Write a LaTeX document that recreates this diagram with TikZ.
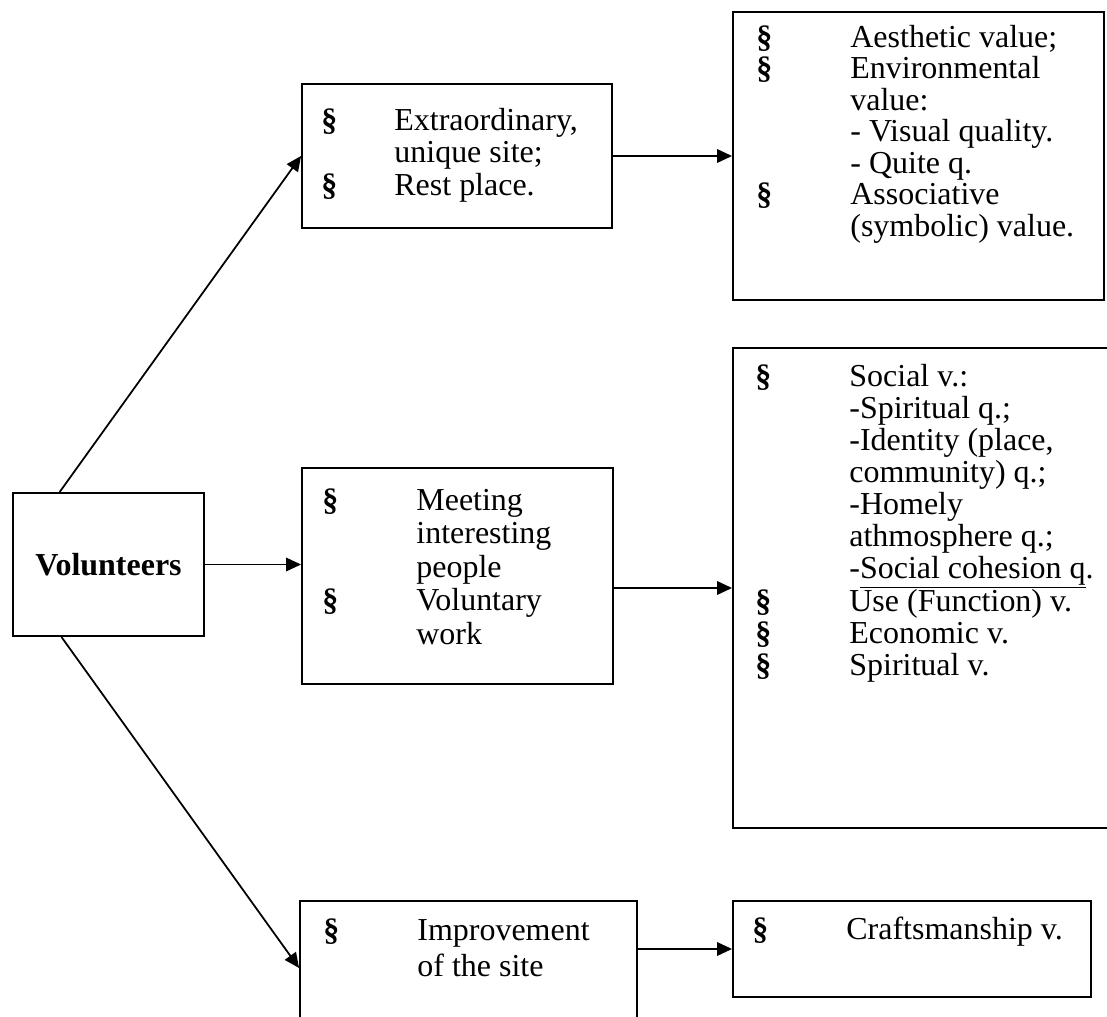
\documentclass[tikz,border=0pt]{standalone}
\usepackage{fontspec}
\setmainfont{Liberation Serif}
\usetikzlibrary{arrows.meta}

\newcommand{\smark}[1][1.88cm]{\makebox[#1][l]{\textbf{\S}}}
\newcommand{\sgap}[1][1.88cm]{\hspace*{#1}}
\newcommand{\lines}[1]{\begin{tabular}[t]{@{}l@{}}#1\end{tabular}}

\begin{document}
\begin{tikzpicture}[x=0.02cm,y=-0.02cm,
    box/.style={draw,line width=1.1pt,inner sep=0pt},
    txt/.style={inner sep=0pt,anchor=base west,
      font=\fontsize{18.2}{#1}\selectfont},
    txt/.default=18.2,
    arr/.style={line width=1pt,-{Triangle[length=0.3cm,width=0.27cm]}}]
  \useasboundingbox (0,0) rectangle (1107,1017);
  % boxes
  \node[box,minimum width=3.82cm,minimum height=2.86cm,
    font=\fontsize{18.2}{18.2}\selectfont\bfseries] (vol) at (108.5,564.5) {Volunteers};
  \node[box,minimum width=6.2cm,minimum height=2.88cm] (site) at (457,156) {};
  \node[box,minimum width=6.22cm,minimum height=4.32cm] (people) at (457.5,576) {};
  \node[box,minimum width=6.74cm,minimum height=2.68cm] (improve) at (468.5,968) {};
  \node[box,minimum width=7.42cm,minimum height=5.76cm] (aesth) at (918.5,156) {};
  \node[box,minimum width=7.74cm,minimum height=9.6cm] (social) at (926.5,588) {};
  \node[box,minimum width=7.16cm,minimum height=1.92cm] (craft) at (912,949) {};
  % texts
  \node[txt=18.7] (site-t) at ([shift={(20,47)}]site.north west)
    {\lines{\smark[1.46cm]Extraordinary,\\ \sgap[1.46cm]unique site;\\ \smark[1.46cm]Rest place.}};
  \node[txt=19.1] (people-t) at ([shift={(21,43)}]people.north west)
    {\lines{\smark Meeting\\ \sgap interesting\\ \sgap people\\ \smark Voluntary\\ \sgap work}};
  \node[txt=20.8] (improve-t) at ([shift={(24,40)}]improve.north west)
    {\lines{\smark Improvement\\ \sgap of the site}};
  \node[txt=17.9] (aesth-t) at ([shift={(24,36)}]aesth.north west)
    {\lines{\smark Aesthetic value;\\ \smark Environmental\\ \sgap value:\\
     \sgap - Visual quality.\\ \sgap - Quite q.\\ \smark Associative\\
     \sgap (symbolic) value.}};
  \node[txt=18.25] (social-t) at ([shift={(23,39)}]social.north west)
    {\lines{\smark Social v.:\\ \sgap -Spiritual q.;\\ \sgap -Identity (place,\\
     \sgap community) q.;\\ \sgap -Homely\\ \sgap athmosphere q.;\\
     \sgap -\underline{Social cohesion q}.\\ \smark Use (Function) v.\\
     \smark Economic v.\\ \smark Spiritual v.}};
  \node[txt] (craft-t) at ([shift={(20,39)}]craft.north west)
    {\lines{\smark Craftsmanship v.}};
  % connectors
  \draw[arr] (vol.124) -- (site.west);
  \draw[arr] (vol.east) -- (vol.east -| people.west);
  \draw[arr] (vol.237) -- (improve.west);
  \draw[arr] (site.east) -- (aesth.west);
  \draw[arr] (social.west -| people.east) -- (social.west);
  \draw[arr] (craft.west -| improve.east) -- (craft.west);
\end{tikzpicture}
\end{document}
